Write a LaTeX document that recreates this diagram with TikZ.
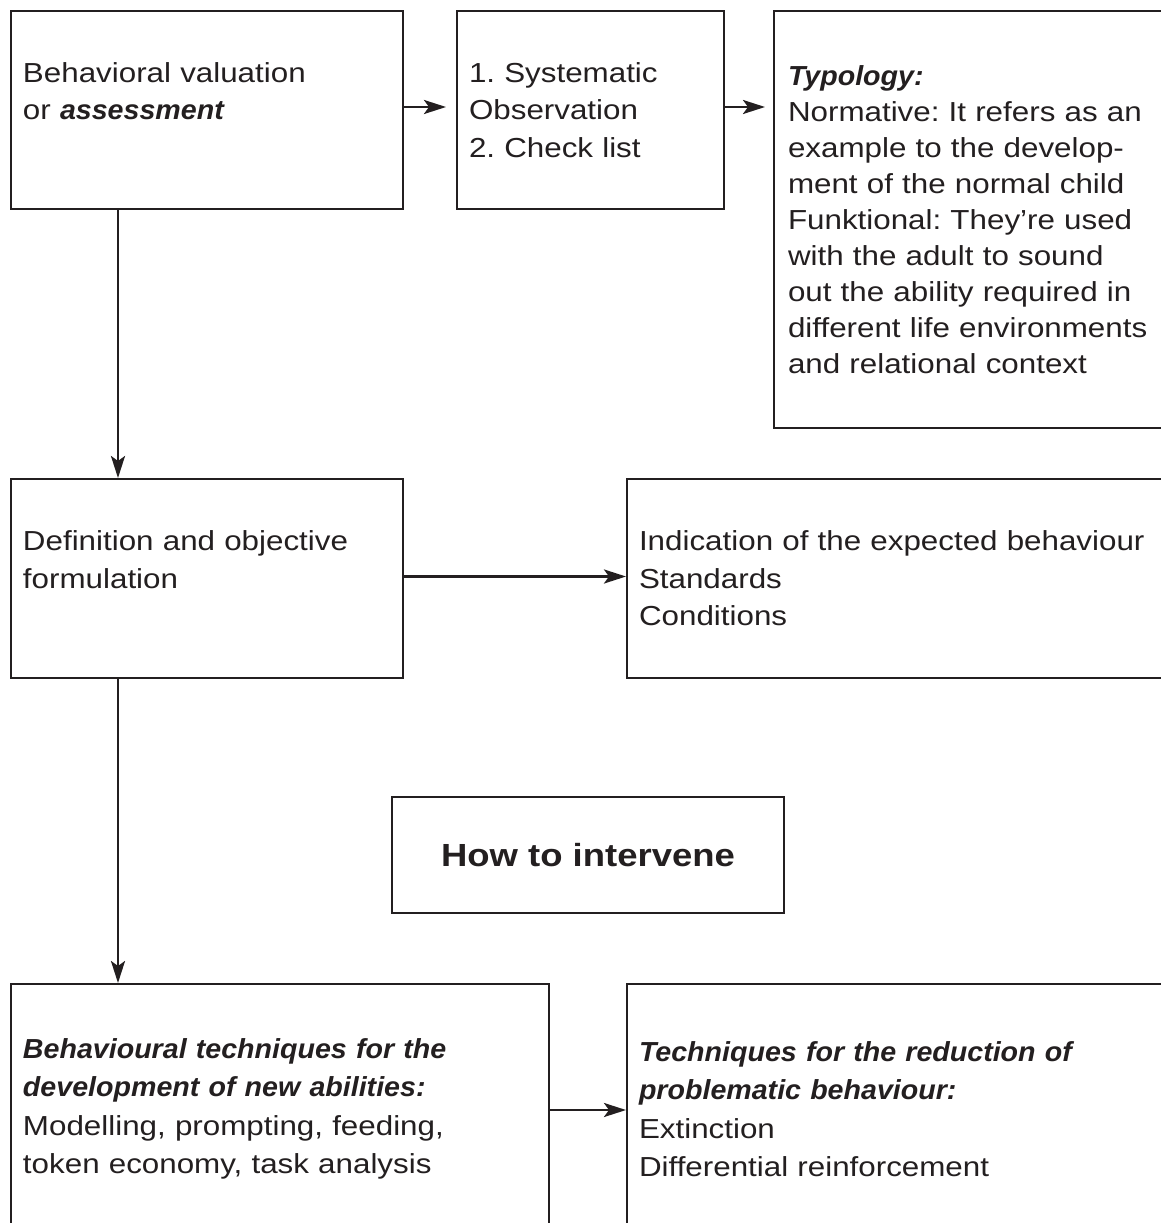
\documentclass[tikz,border=0pt]{standalone}
\usepackage{fontspec}
\setmainfont{Liberation Sans}[FakeStretch=1.14]
\newfontfamily\bifont{Liberation Sans}[FakeStretch=1.04]
\usetikzlibrary{arrows.meta}
\definecolor{ink}{RGB}{35,31,32}
\newcommand{\bi}[1]{{\bifont\bfseries\itshape #1}}
\frenchspacing
\begin{document}
\frenchspacing
\begin{tikzpicture}[x=1pt,y=-1pt,
  box/.style={draw=ink, line width=2pt, anchor=north west, align=left,
    inner xsep=12pt, inner ysep=0pt, text=ink,
    font=\frenchspacing\fontsize{27.5}{37.5}\selectfont},
  arr/.style={draw=ink, line width=2.6pt,
    -{Stealth[length=22pt,width=14pt,inset=5pt]}}]
\useasboundingbox (0,0) rectangle (1161,1223);
\fill[white] (0,0) rectangle (1161,1223);
\clip (0,0) rectangle (1161,1223);

\node[box, minimum width=392pt, minimum height=198pt, text width=368pt] (b1) at (10,10)
  {Behavioral valuation\\ or \bi{assessment}\\ \mbox{}};
\node[box, minimum width=267pt, minimum height=198pt, text width=243pt] (b2) at (456,10)
  {1. Systematic\\ Observation\\ 2. Check list};
\node[box, minimum width=400pt, minimum height=417pt, inner xsep=14pt, text width=372pt,
  font=\frenchspacing\fontsize{27.5}{36}\selectfont] (b3) at (773,10)
  {\bi{Typology:}\\ Normative: It refers as an\\ example to the develop-\\ ment of the normal child\\
   Funktional: They’re used\\ with the adult to sound\\ out the ability required in\\
   different life environments\\ and relational context};

\node[box, minimum width=392pt, minimum height=199pt, text width=368pt] (b4) at (10,478)
  {Definition and objective\\ formulation\\ \mbox{}};
\node[box, minimum width=560pt, minimum height=199pt, text width=536pt] (b5) at (626,478)
  {Indication of the expected behaviour\\ Standards\\ Conditions};

\node[draw=ink, line width=2pt, minimum width=392pt, minimum height=116pt, text=ink,
  font=\fontsize{32}{36}\selectfont\bfseries] (bh) at (588,855) {How to intervene};

\node[box, minimum width=538pt, minimum height=250pt, text width=514pt,
  font=\frenchspacing\fontsize{27.5}{38.5}\selectfont] (b6) at (10,983)
  {\bi{Behavioural techniques for the}\\ \bi{development of new abilities:}\\
   Modelling, prompting, feeding,\\ token economy, task analysis};
\node[box, minimum width=560pt, minimum height=250pt, text width=536pt,
  font=\frenchspacing\fontsize{27.5}{38.5}\selectfont] (b7) at (626,983)
  {\bi{Techniques for the reduction of}\\ \bi{problematic behaviour:}\\
   Extinction\\ Differential reinforcement};

\draw[arr, shorten >=10pt] ([yshift=3pt]b1.east) -- ([yshift=3pt]b2.west);
\draw[arr, shorten >=8pt] ([yshift=3pt]b2.east) -- ([yshift=3pt]b3.west|-b2.east);
\draw[arr] ([xshift=108pt]b1.south west) -- ([xshift=108pt]b4.north west);
\draw[arr] ([yshift=2pt]b4.east) -- ([yshift=2pt]b5.west);
\draw[arr] ([xshift=108pt]b4.south west) -- ([xshift=108pt]b6.north west);
\draw[arr] ([yshift=-1pt]b6.east) -- ([yshift=-1pt]b7.west);
\end{tikzpicture}
\end{document}
